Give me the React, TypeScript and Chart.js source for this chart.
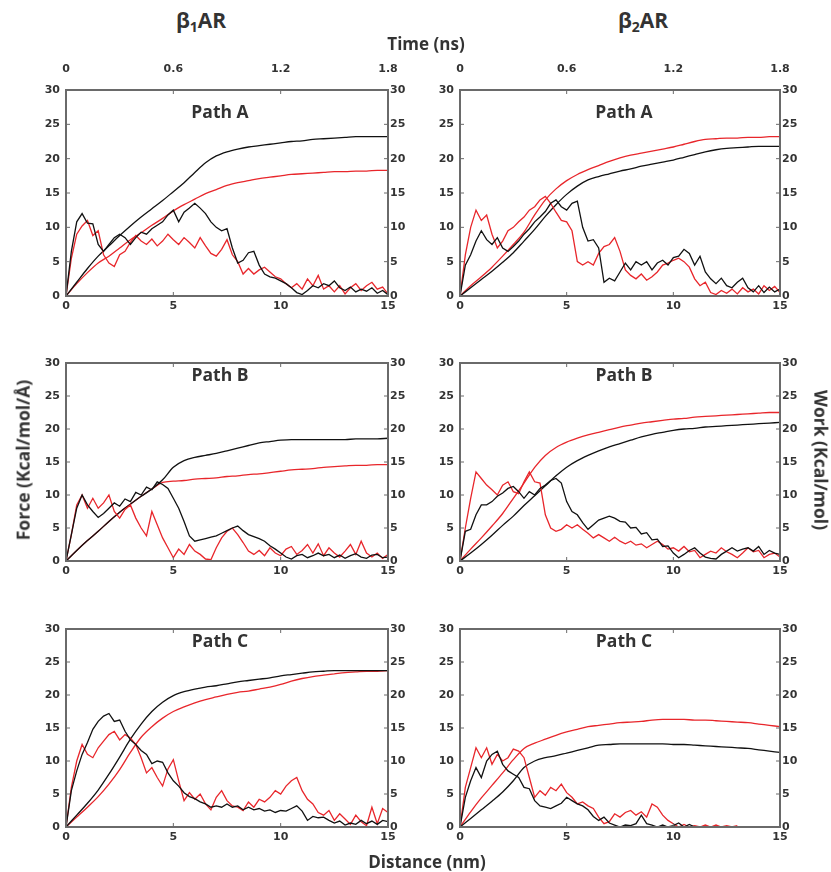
import React, { useEffect, useRef } from 'react';
import { Chart, registerables } from 'chart.js';

Chart.register(...registerables);

// ---------- shared axes ----------
const FORCE_DISTANCE = [
  0, 0.25, 0.5, 0.75, 1, 1.25, 1.5, 1.75, 2, 2.25, 2.5, 2.75, 3, 3.25, 3.5, 3.75,
  4, 4.25, 4.5, 4.75, 5, 5.25, 5.5, 5.75, 6, 6.25, 6.5, 6.75, 7, 7.25, 7.5, 7.75,
  8, 8.25, 8.5, 8.75, 9, 9.25, 9.5, 9.75, 10, 10.25, 10.5, 10.75, 11, 11.25, 11.5, 11.75,
  12, 12.25, 12.5, 12.75, 13, 13.25, 13.5, 13.75, 14, 14.25, 14.5, 14.75, 15,
];
const WORK_DISTANCE = [
  0, 0.5, 1, 1.5, 2, 2.5, 3, 3.5, 4, 4.5, 5, 5.5, 6, 6.5, 7, 7.5,
  8, 8.5, 9, 9.5, 10, 10.5, 11, 11.5, 12, 12.5, 13, 13.5, 14, 14.5, 15,
];
const TIME_TICK_LABELS = ['0', '0.6', '1.2', '1.8'];

// ---------- β1AR Path A ----------
const B1_A_FORCE_BLACK = [0, 6.5, 10.8, 12.0, 10.6, 10.5, 7.5, 6.5, 7.5, 8.5, 9.0, 8.5, 7.5, 8.5, 9.3, 9.0, 9.8, 10.3, 10.8, 11.8, 12.5, 10.8, 12.2, 12.8, 13.5, 12.8, 12.0, 10.8, 10.0, 9.5, 9.8, 7.0, 4.8, 5.2, 6.3, 6.5, 4.5, 3.2, 2.8, 2.6, 2.2, 1.8, 1.2, 0.5, 0.2, 0.8, 1.5, 1.2, 1.8, 1.5, 2.2, 1.2, 0.8, 1.3, 0.6, 1.0, 0.7, 1.2, 0.4, 0.8, 0.2];
const B1_A_FORCE_RED = [0, 5.5, 9.0, 10.2, 11.0, 8.8, 9.5, 6.0, 4.8, 4.3, 6.0, 6.5, 7.8, 8.8, 8.0, 7.5, 8.3, 7.3, 8.0, 9.0, 8.2, 7.5, 8.5, 7.8, 7.0, 8.5, 7.3, 6.2, 5.8, 6.8, 8.2, 6.0, 5.0, 3.2, 4.0, 3.2, 3.8, 4.2, 3.5, 2.8, 2.5, 1.8, 1.2, 1.8, 1.0, 2.5, 1.5, 3.0, 1.0, 1.5, 0.6, 1.5, 0.3, 1.2, 1.8, 0.8, 1.5, 2.0, 1.0, 1.3, 0.3];
const B1_A_WORK_BLACK = [0, 2.0, 4.0, 5.8, 7.3, 8.8, 10.2, 11.5, 12.7, 13.9, 15.2, 16.5, 18.0, 19.4, 20.4, 21.0, 21.4, 21.7, 21.9, 22.1, 22.3, 22.5, 22.6, 22.8, 22.9, 23.0, 23.1, 23.2, 23.2, 23.2, 23.2];
const B1_A_WORK_RED = [0, 1.8, 3.4, 4.8, 5.8, 7.0, 8.2, 9.2, 10.3, 11.3, 12.4, 13.3, 14.1, 14.9, 15.5, 16.1, 16.5, 16.8, 17.1, 17.3, 17.5, 17.7, 17.8, 17.9, 18.0, 18.1, 18.1, 18.2, 18.2, 18.3, 18.3];

// ---------- β2AR Path A ----------
const B2_A_FORCE_BLACK = [0, 4.5, 6.0, 8.0, 9.5, 8.2, 7.5, 8.5, 7.0, 6.5, 7.2, 8.0, 9.0, 9.8, 10.8, 11.5, 12.3, 13.5, 14.0, 13.0, 12.5, 13.5, 13.8, 10.0, 8.0, 8.2, 7.0, 2.0, 2.6, 2.2, 3.5, 4.8, 3.8, 5.0, 4.5, 5.0, 3.8, 4.8, 5.2, 4.5, 5.6, 5.8, 6.8, 6.2, 4.5, 5.8, 3.5, 2.5, 1.8, 2.6, 1.5, 1.2, 2.0, 2.6, 1.2, 0.6, 1.5, 0.5, 1.3, 0.6, 1.0];
const B2_A_FORCE_RED = [0, 6.0, 10.0, 12.5, 11.0, 11.8, 9.0, 7.0, 8.0, 9.5, 10.0, 10.8, 11.5, 12.5, 13.0, 14.0, 14.5, 13.5, 12.2, 11.0, 10.8, 9.5, 5.0, 4.5, 5.0, 4.5, 6.2, 7.2, 7.5, 8.5, 6.5, 3.8, 3.0, 2.5, 3.2, 2.3, 2.8, 3.5, 4.5, 4.8, 5.2, 5.5, 5.0, 4.2, 2.5, 1.5, 2.0, 0.5, 0.2, 0.8, 0.4, 1.0, 0.3, 1.2, 0.6, 1.0, 0.3, 1.5, 0.8, 1.4, 0.5];
const B2_A_WORK_BLACK = [0, 1.2, 2.4, 3.6, 4.9, 6.3, 8.0, 9.7, 11.6, 13.3, 14.8, 16.0, 16.9, 17.4, 17.8, 18.2, 18.5, 18.9, 19.2, 19.5, 19.8, 20.2, 20.6, 21.0, 21.3, 21.5, 21.6, 21.7, 21.8, 21.8, 21.8];
const B2_A_WORK_RED = [0, 1.5, 2.8, 4.2, 5.8, 7.5, 9.3, 11.8, 14.0, 15.6, 16.8, 17.7, 18.4, 19.0, 19.6, 20.1, 20.5, 20.8, 21.1, 21.4, 21.7, 22.1, 22.5, 22.8, 22.9, 23.0, 23.0, 23.1, 23.1, 23.2, 23.2];

// ---------- β1AR Path B ----------
const B1_B_FORCE_BLACK = [0, 4.0, 8.0, 10.0, 8.5, 7.5, 6.6, 7.2, 8.0, 8.8, 8.3, 9.4, 9.0, 10.4, 10.0, 11.2, 10.8, 12.0, 11.6, 11.0, 9.5, 8.0, 6.0, 3.8, 3.0, 3.2, 3.4, 3.6, 3.8, 4.2, 4.6, 5.0, 5.3, 4.6, 4.0, 3.7, 3.4, 3.0, 2.3, 1.8, 1.2, 0.6, 0.3, 0.8, 1.0, 0.5, 0.8, 1.2, 0.8, 1.0, 0.5, 0.9, 0.4, 0.8, 1.1, 0.6, 0.4, 0.9, 1.0, 0.5, 0.6];
const B1_B_FORCE_RED = [0, 4.0, 8.5, 10.0, 8.0, 9.5, 8.0, 8.8, 10.0, 7.5, 6.5, 7.8, 8.5, 6.5, 5.0, 3.8, 7.5, 5.5, 3.5, 2.0, 0.5, 1.8, 1.0, 2.5, 1.5, 1.0, 0.3, 0.2, 2.0, 3.5, 4.5, 5.0, 4.0, 2.8, 1.5, 1.0, 1.6, 0.8, 2.0, 1.2, 0.8, 1.8, 2.2, 1.0, 1.6, 2.5, 1.2, 2.6, 0.8, 2.0, 1.2, 0.6, 1.5, 2.5, 1.0, 3.0, 1.2, 0.6, 1.2, 0.4, 1.0];
const B1_B_WORK_BLACK = [0, 1.6, 3.1, 4.5, 6.0, 7.4, 8.6, 9.8, 10.9, 12.3, 14.2, 15.2, 15.7, 16.0, 16.3, 16.7, 17.1, 17.5, 17.9, 18.1, 18.3, 18.4, 18.4, 18.4, 18.4, 18.4, 18.4, 18.5, 18.5, 18.5, 18.6];
const B1_B_WORK_RED = [0, 1.6, 3.1, 4.5, 6.0, 7.4, 8.6, 9.8, 10.9, 11.9, 12.1, 12.2, 12.4, 12.5, 12.6, 12.8, 12.9, 13.1, 13.2, 13.4, 13.6, 13.8, 13.9, 14.0, 14.2, 14.3, 14.4, 14.5, 14.5, 14.6, 14.6];

// ---------- β2AR Path B ----------
const B2_B_FORCE_BLACK = [0, 4.5, 4.8, 7.0, 8.5, 8.5, 9.0, 9.8, 10.3, 11.0, 11.3, 10.5, 9.5, 10.5, 10.0, 11.0, 11.5, 12.2, 12.5, 11.8, 9.0, 7.5, 7.0, 5.8, 4.8, 5.5, 6.2, 6.5, 6.8, 6.5, 6.0, 5.9, 5.0, 5.1, 4.1, 4.3, 3.2, 3.3, 2.2, 2.3, 1.2, 0.5, 1.0, 1.6, 2.0, 1.2, 0.6, 0.4, 0.3, 1.0, 1.5, 2.0, 1.5, 1.8, 2.0, 1.5, 2.2, 1.0, 1.6, 1.2, 1.0];
const B2_B_FORCE_RED = [0, 5.0, 9.5, 13.5, 12.5, 11.5, 10.8, 10.0, 11.5, 12.0, 10.5, 10.2, 12.0, 13.5, 12.0, 11.8, 7.0, 5.0, 4.5, 4.8, 5.5, 5.0, 5.5, 4.8, 4.2, 3.5, 4.0, 3.5, 3.0, 3.6, 3.0, 2.6, 3.0, 2.4, 2.6, 2.0, 2.5, 3.0, 2.5, 1.8, 2.0, 1.5, 2.2, 1.4, 1.6, 0.5, 1.0, 1.5, 1.2, 2.0, 1.4, 1.0, 0.5, 1.2, 2.0, 1.4, 1.6, 0.5, 1.0, 1.2, 0.6];
const B2_B_WORK_BLACK = [0, 1.2, 2.5, 3.9, 5.4, 6.8, 8.4, 9.9, 11.4, 12.9, 14.2, 15.2, 16.0, 16.7, 17.3, 17.8, 18.3, 18.8, 19.2, 19.5, 19.8, 20.0, 20.1, 20.3, 20.4, 20.5, 20.6, 20.7, 20.8, 20.9, 21.0];
const B2_B_WORK_RED = [0, 1.8, 3.5, 5.3, 7.2, 9.5, 11.8, 14.2, 16.0, 17.2, 18.0, 18.6, 19.1, 19.5, 19.9, 20.3, 20.6, 20.9, 21.1, 21.3, 21.5, 21.6, 21.8, 21.9, 22.0, 22.1, 22.2, 22.3, 22.4, 22.5, 22.5];

// ---------- β1AR Path C ----------
const B1_C_FORCE_BLACK = [0, 5.5, 8.5, 11.0, 12.8, 14.8, 16.0, 16.8, 17.2, 16.0, 16.2, 14.5, 13.2, 12.5, 11.6, 11.0, 9.6, 10.0, 9.8, 8.2, 7.0, 6.2, 5.2, 4.6, 4.3, 3.8, 3.5, 3.0, 3.2, 3.0, 3.5, 3.0, 3.2, 2.6, 3.0, 2.6, 2.8, 2.4, 2.6, 2.2, 2.5, 2.4, 2.8, 3.2, 2.4, 1.0, 1.6, 1.4, 1.5, 1.0, 0.6, 0.9, 0.3, 0.6, 0.4, 1.0, 0.5, 0.9, 0.4, 1.0, 0.8];
const B1_C_FORCE_RED = [0, 6.0, 10.0, 12.5, 11.0, 10.5, 12.0, 13.0, 14.0, 14.5, 13.2, 14.0, 13.5, 12.5, 10.5, 8.2, 9.0, 7.5, 6.2, 8.8, 10.2, 7.0, 4.0, 5.2, 4.2, 5.0, 3.5, 2.6, 4.5, 5.5, 4.0, 3.2, 3.0, 2.5, 3.8, 3.0, 4.2, 3.8, 4.5, 5.5, 5.0, 6.2, 7.0, 7.5, 5.5, 4.2, 3.5, 2.2, 1.8, 2.5, 1.0, 2.0, 1.2, 0.4, 1.8, 0.8, 0.2, 3.0, 0.5, 2.8, 2.2];
const B1_C_WORK_BLACK = [0, 1.8, 3.6, 5.6, 8.0, 10.6, 13.3, 15.6, 17.5, 18.9, 19.9, 20.5, 20.9, 21.2, 21.4, 21.7, 22.0, 22.2, 22.4, 22.6, 22.9, 23.1, 23.3, 23.5, 23.6, 23.7, 23.7, 23.7, 23.7, 23.7, 23.7];
const B1_C_WORK_RED = [0, 1.5, 3.0, 4.6, 6.5, 8.7, 11.3, 13.6, 15.2, 16.5, 17.5, 18.2, 18.8, 19.3, 19.7, 20.1, 20.4, 20.6, 20.9, 21.2, 21.6, 22.1, 22.5, 22.8, 23.0, 23.2, 23.4, 23.5, 23.6, 23.6, 23.7];

// ---------- β2AR Path C ----------
const B2_C_FORCE_BLACK = [0, 4.5, 7.0, 9.0, 7.5, 10.0, 11.0, 11.5, 9.5, 8.5, 8.0, 7.5, 6.0, 5.8, 4.0, 3.2, 3.0, 2.8, 3.2, 3.6, 4.5, 4.0, 3.5, 3.2, 2.6, 1.6, 1.0, 1.5, 0.6, 0.3, 0.0, 0.3, 0.2, 0.5, 1.8, 0.5, 0.3, 0.0, 0.3, 0.0, 0.2, 0.6, 0.0, 0.4, 0.0, null, null, null, null, null, null, null, null, null, null, null, null, null, null, null, null];
const B2_C_FORCE_RED = [0, 6.0, 9.0, 12.0, 10.5, 12.0, 9.5, 11.0, 10.0, 10.5, 11.8, 11.5, 10.5, 7.5, 4.5, 5.5, 4.8, 6.0, 5.5, 6.5, 5.2, 4.5, 3.5, 3.8, 3.2, 2.8, 1.5, 0.5, 0.8, 2.0, 1.5, 2.2, 2.5, 1.8, 2.3, 1.5, 3.5, 3.0, 1.8, 1.0, 0.5, 0.0, 0.4, 0.0, 0.2, 0.0, 0.3, 0.0, 0.3, 0.0, 0.2, 0.0, 0.2, null, null, null, null, null, null, null, null];
const B2_C_WORK_BLACK = [0, 1.3, 2.6, 3.9, 5.3, 7.0, 9.0, 10.0, 10.5, 10.8, 11.2, 11.6, 12.0, 12.4, 12.5, 12.6, 12.6, 12.6, 12.6, 12.6, 12.5, 12.5, 12.4, 12.3, 12.2, 12.1, 12.0, 11.9, 11.7, 11.5, 11.3];
const B2_C_WORK_RED = [0, 2.3, 4.4, 6.3, 8.2, 10.2, 11.9, 12.7, 13.3, 13.9, 14.4, 14.8, 15.2, 15.4, 15.6, 15.8, 15.9, 16.0, 16.2, 16.3, 16.3, 16.3, 16.2, 16.2, 16.1, 16.0, 15.9, 15.8, 15.6, 15.4, 15.2];

const BLACK = '#111111';
const RED = '#e8262b';
const TEXT = '#333333';
const TICK_FONT = { family: '"DejaVu Sans", sans-serif', size: 11, weight: 'bold' as const };

type PanelSpec = {
  title: string;
  titleX: number;
  left: number;
  top: number;
  right: number;
  bottom: number;
  showTime: boolean;
  forceBlack: (number | null)[];
  forceRed: (number | null)[];
  workBlack: number[];
  workRed: number[];
};

const COL_L = { left: 66, right: 388, titleX: 220 };
const COL_R = { left: 460, right: 780, titleX: 624 };
const ROW_1 = { top: 90, bottom: 296 };
const ROW_2 = { top: 353, bottom: 561 };
const ROW_3 = { top: 619, bottom: 827 };

const PANELS: PanelSpec[] = [
  { title: 'Path A', ...COL_L, ...ROW_1, showTime: true, forceBlack: B1_A_FORCE_BLACK, forceRed: B1_A_FORCE_RED, workBlack: B1_A_WORK_BLACK, workRed: B1_A_WORK_RED },
  { title: 'Path A', ...COL_R, ...ROW_1, showTime: true, forceBlack: B2_A_FORCE_BLACK, forceRed: B2_A_FORCE_RED, workBlack: B2_A_WORK_BLACK, workRed: B2_A_WORK_RED },
  { title: 'Path B', ...COL_L, ...ROW_2, showTime: false, forceBlack: B1_B_FORCE_BLACK, forceRed: B1_B_FORCE_RED, workBlack: B1_B_WORK_BLACK, workRed: B1_B_WORK_RED },
  { title: 'Path B', ...COL_R, ...ROW_2, showTime: false, forceBlack: B2_B_FORCE_BLACK, forceRed: B2_B_FORCE_RED, workBlack: B2_B_WORK_BLACK, workRed: B2_B_WORK_RED },
  { title: 'Path C', ...COL_L, ...ROW_3, showTime: false, forceBlack: B1_C_FORCE_BLACK, forceRed: B1_C_FORCE_RED, workBlack: B1_C_WORK_BLACK, workRed: B1_C_WORK_RED },
  { title: 'Path C', ...COL_R, ...ROW_3, showTime: false, forceBlack: B2_C_FORCE_BLACK, forceRed: B2_C_FORCE_RED, workBlack: B2_C_WORK_BLACK, workRed: B2_C_WORK_RED },
];

const SIDE = 45;
const BOTTOM = 24;

const framePlugin = {
  id: 'frame',
  afterDraw(chart: any) {
    const { ctx, chartArea: a, scales } = chart;
    ctx.save();
    ctx.strokeStyle = '#6a6a6a';
    ctx.lineWidth = 1;
    const line = (x1: number, y1: number, x2: number, y2: number) => {
      ctx.beginPath();
      ctx.moveTo(x1, y1);
      ctx.lineTo(x2, y2);
      ctx.stroke();
    };
    scales.x.ticks.forEach((t: any) => {
      const px = scales.x.getPixelForValue(t.value);
      line(px, a.bottom, px, a.bottom - 4);
      line(px, a.top, px, a.top + 4);
    });
    scales.y.ticks.forEach((t: any) => {
      const py = scales.y.getPixelForValue(t.value);
      line(a.left, py, a.left + 4, py);
      line(a.right, py, a.right - 4, py);
    });
    ctx.lineWidth = 2;
    ctx.strokeRect(a.left, a.top, a.right - a.left, a.bottom - a.top);
    ctx.restore();
  },
};

const noGrid = { display: false, drawTicks: false };

function Panel({ spec }: { spec: PanelSpec }) {
  const ref = useRef<HTMLCanvasElement | null>(null);
  const padTop = spec.showTime ? 36 : 10;
  const w = spec.right - spec.left + SIDE * 2;
  const h = spec.bottom - spec.top + padTop + BOTTOM;

  useEffect(() => {
    if (!ref.current) return;
    const pts = (xs: number[], ys: (number | null)[]) => ys.map((y, i) => ({ x: xs[i], y }));
    const chart = new Chart(ref.current, {
      type: 'line',
      data: {
        datasets: [
          { data: pts(FORCE_DISTANCE, spec.forceBlack) as any, borderColor: BLACK, borderWidth: 1.3, pointRadius: 0, tension: 0, spanGaps: false },
          { data: pts(FORCE_DISTANCE, spec.forceRed) as any, borderColor: RED, borderWidth: 1.3, pointRadius: 0, tension: 0, spanGaps: false },
          { data: pts(WORK_DISTANCE, spec.workBlack) as any, borderColor: BLACK, borderWidth: 1.3, pointRadius: 0, cubicInterpolationMode: 'monotone' },
          { data: pts(WORK_DISTANCE, spec.workRed) as any, borderColor: RED, borderWidth: 1.3, pointRadius: 0, cubicInterpolationMode: 'monotone' },
        ],
      },
      options: {
        animation: false,
        responsive: false,
        maintainAspectRatio: false,
        devicePixelRatio: 1,
        events: [],
        layout: { padding: { top: spec.showTime ? 0 : padTop, left: 0, right: 0, bottom: 0 } },
        plugins: { legend: { display: false }, tooltip: { enabled: false } },
        scales: {
          x: {
            type: 'linear', position: 'bottom', min: 0, max: 15,
            grid: noGrid, border: { display: false },
            ticks: { stepSize: 5, font: TICK_FONT, color: TEXT, padding: 4, maxRotation: 0, autoSkip: false },
            afterFit: (s: any) => { s.height = BOTTOM; },
          },
          xTime: {
            type: 'linear', position: 'top', min: 0, max: 15, display: spec.showTime,
            grid: noGrid, border: { display: false },
            ticks: { stepSize: 5, font: TICK_FONT, color: TEXT, padding: 14, maxRotation: 0, autoSkip: false,
              callback: (_v: any, i: number) => TIME_TICK_LABELS[i] },
            afterFit: (s: any) => { s.height = padTop; },
          },
          y: {
            type: 'linear', position: 'left', min: 0, max: 30,
            grid: noGrid, border: { display: false },
            ticks: { stepSize: 5, font: TICK_FONT, color: TEXT, padding: 6 },
            afterFit: (s: any) => { s.width = SIDE; },
          },
          y2: {
            type: 'linear', position: 'right', min: 0, max: 30,
            grid: noGrid, border: { display: false },
            ticks: { stepSize: 5, font: TICK_FONT, color: TEXT, padding: 2 },
            afterFit: (s: any) => { s.width = SIDE; },
          },
        },
      } as any,
      plugins: [framePlugin],
    });
    return () => chart.destroy();
  }, []);

  return (
    <canvas
      ref={ref}
      width={w}
      height={h}
      style={{ position: 'absolute', left: spec.left - SIDE, top: spec.top - padTop, width: w, height: h }}
    />
  );
}

const labelBase: React.CSSProperties = {
  position: 'absolute',
  transform: 'translate(-50%, -50%)',
  whiteSpace: 'nowrap',
  fontFamily: '"Open Sans", sans-serif',
  fontWeight: 700,
  color: TEXT,
  lineHeight: 1.3,
};

export default function App() {
  return (
    <div style={{ position: 'absolute', left: 0, top: 0, width: 831, height: 872, background: '#fff', overflow: 'hidden' }}>
      {PANELS.map((p, i) => (
        <Panel key={i} spec={p} />
      ))}
      {PANELS.map((p, i) => (
        <div key={'t' + i} style={{ ...labelBase, left: p.titleX, top: p.top + 21, fontSize: 17.5 }}>{p.title}</div>
      ))}
      <div style={{ ...labelBase, left: 201, top: 22, fontSize: 21 }}>β<sub style={{ fontSize: 14, verticalAlign: -4 }}>1</sub>AR</div>
      <div style={{ ...labelBase, left: 643, top: 22, fontSize: 21 }}>β<sub style={{ fontSize: 14, verticalAlign: -4 }}>2</sub>AR</div>
      <div style={{ ...labelBase, left: 426, top: 44, fontSize: 17 }}>Time (ns)</div>
      <div style={{ ...labelBase, left: 427, top: 862, fontSize: 17 }}>Distance (nm)</div>
      <div style={{ ...labelBase, left: 23, top: 460, fontSize: 17.5, transform: 'translate(-50%, -50%) rotate(-90deg)' }}>Force (Kcal/mol/Å)</div>
      <div style={{ ...labelBase, left: 821, top: 460, fontSize: 17.5, transform: 'translate(-50%, -50%) rotate(90deg)' }}>Work (Kcal/mol)</div>
    </div>
  );
}
